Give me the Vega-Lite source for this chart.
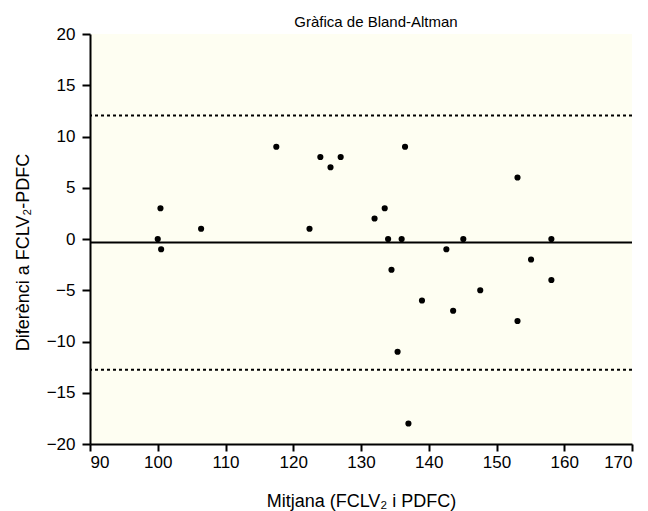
{
  "$schema": "https://vega.github.io/schema/vega-lite/v6.json",
  "width": 542,
  "height": 410,
  "autosize": {"type": "none"},
  "padding": {"left": 90, "top": 34, "right": 16, "bottom": 67},
  "background": "white",
  "config": {
    "font": "Liberation Sans",
    "view": {"fill": "#fefef2", "stroke": null},
    "axis": {
      "domainColor": "black", "domainWidth": 2, "tickColor": "black", "tickWidth": 2, "tickSize": 8,
      "labelFont": "Liberation Sans", "labelFontSize": 17, "labelColor": "black",
      "titleFont": "Liberation Sans", "titleFontSize": 18, "titleFontWeight": "normal", "titleColor": "black",
      "grid": false
    }
  },
  "title": {"text": "Gràfica de Bland-Altman", "fontSize": 15, "fontWeight": "normal", "color": "black", "font": "Liberation Sans", "anchor": "middle", "dx": 15, "dy": 5, "offset": 0},
  "datasets": {
    "pts": [
      {"mean": 100.0, "diff": 0}, {"mean": 100.4, "diff": 3}, {"mean": 100.5, "diff": -1},
      {"mean": 106.4, "diff": 1}, {"mean": 117.5, "diff": 9}, {"mean": 122.4, "diff": 1},
      {"mean": 124.0, "diff": 8}, {"mean": 125.5, "diff": 7}, {"mean": 127.0, "diff": 8},
      {"mean": 132.0, "diff": 2}, {"mean": 133.5, "diff": 3}, {"mean": 134.0, "diff": 0},
      {"mean": 134.5, "diff": -3}, {"mean": 135.4, "diff": -11}, {"mean": 136.0, "diff": 0},
      {"mean": 136.5, "diff": 9}, {"mean": 137.0, "diff": -18}, {"mean": 139.0, "diff": -6},
      {"mean": 142.6, "diff": -1}, {"mean": 143.6, "diff": -7}, {"mean": 145.1, "diff": 0},
      {"mean": 147.6, "diff": -5}, {"mean": 153.1, "diff": 6}, {"mean": 153.1, "diff": -8},
      {"mean": 155.1, "diff": -2}, {"mean": 158.1, "diff": 0}, {"mean": 158.1, "diff": -4}
    ],
    "lines": [
      {"y": -0.33, "kind": "mean"},
      {"y": 12.05, "kind": "limit"},
      {"y": -12.75, "kind": "limit"}
    ]
  },
  "layer": [
    {
      "data": {"name": "lines"},
      "transform": [{"filter": "datum.kind == 'mean'"}],
      "mark": {"type": "rule", "color": "black", "strokeWidth": 2},
      "encoding": {"y": {"field": "y", "type": "quantitative"}}
    },
    {
      "data": {"name": "lines"},
      "transform": [{"filter": "datum.kind == 'limit'"}],
      "mark": {"type": "rule", "color": "black", "strokeWidth": 2, "strokeDash": [3, 3]},
      "encoding": {"y": {"field": "y", "type": "quantitative"}}
    },
    {
      "data": {"name": "pts"},
      "mark": {"type": "circle", "color": "black", "opacity": 1, "size": 38},
      "encoding": {
        "x": {"field": "mean", "type": "quantitative",
          "scale": {"domain": [90, 170], "nice": false, "zero": false},
          "axis": {"values": [90, 100, 110, 120, 130, 140, 150, 160, 170], "title": "Mitjana (FCLV₂ i PDFC)", "titlePadding": 22, "labelPadding": 3, "tickSize": 7}},
        "y": {"field": "diff", "type": "quantitative",
          "scale": {"domain": [-20, 20], "nice": false, "zero": false},
          "axis": {"values": [-20, -15, -10, -5, 0, 5, 10, 15, 20], "title": "Diferènci a FCLV₂-PDFC", "titlePadding": 14, "titleY": 218, "labelPadding": 7}}
      }
    }
  ]
}
